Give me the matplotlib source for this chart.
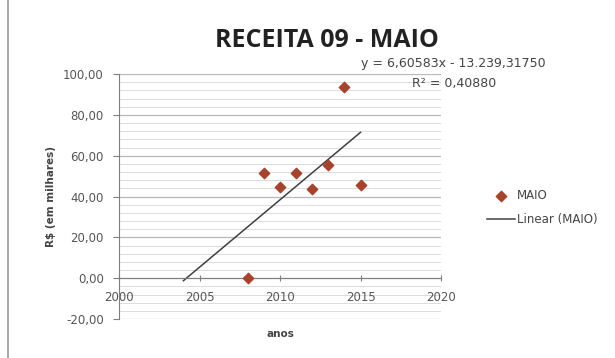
import matplotlib.pyplot as plt
import numpy as np
from matplotlib.lines import Line2D

# Data
anos = [2008, 2009, 2010, 2011, 2012, 2013, 2014, 2015]
maio = [0.0, 51.5, 44.5, 51.5, 43.5, 55.5, 93.5, 45.5]
# trendline as printed on the chart
slope = 6.60583
intercept = -13239.31750
r2 = 0.40880
trend_start = 2004  # backward forecast of the Excel trendline


def br(v, nd):
    # brazilian number format: 13.239,31750
    s = f'{v:,.{nd}f}'
    return s.replace(',', '#').replace('.', ',').replace('#', '.')


plt.rcParams['font.family'] = ['DejaVu Sans']

fig = plt.figure(figsize=(6.15, 3.58), dpi=100)
fig.patch.set_facecolor('white')
ax = fig.add_axes([0.1935, 0.1089, 0.5236, 0.6844])

# grid lines
for v in np.arange(-20, 101, 4):
    major = v % 20 == 0
    ax.axhline(v, color='#b8b8b8' if major else '#dcdcdc', lw=0.9 if major else 0.7, zorder=0)

# points and linear trend
ax.scatter(anos, maio, marker='D', s=28, color='#a8432b', zorder=3, label='MAIO')
xs = np.array([trend_start, anos[-1]])
ax.plot(xs, slope * xs + intercept, color='#404040', lw=1.1, zorder=2, label='Linear (MAIO)')

ax.set_xlim(2000, 2020)
ax.set_ylim(-20, 100)
ax.set_xticks(range(2000, 2021, 5))
ax.set_yticks(range(-20, 101, 20))
ax.set_yticklabels([br(v, 2) for v in range(-20, 101, 20)])

for s in ['top', 'right']:
    ax.spines[s].set_visible(False)
ax.spines['bottom'].set_position(('data', 0))
ax.spines['bottom'].set_color('#7f7f7f')
ax.spines['left'].set_color('#7f7f7f')
ax.tick_params(axis='x', direction='inout', length=5, color='#7f7f7f', labelsize=8.5,
               labelcolor='#555555', pad=7)
ax.tick_params(axis='y', direction='out', length=4, color='#7f7f7f', labelsize=8.5,
               labelcolor='#555555', pad=7)

ax.set_xlabel('anos', fontsize=7.5, fontweight='bold', color='#444444', labelpad=18)
ax.set_ylabel('R$ (em milhares)', fontsize=7.5, fontweight='bold', color='#444444', labelpad=5)
ax.patch.set_alpha(0)

fig.text(0.532, 0.888, 'RECEITA 09 - MAIO', ha='center', va='center',
         fontsize=18, fontweight='bold', color='#222222', family='Open Sans')
fig.text(0.737, 0.824, f'y = {br(slope, 5)}x - {br(-intercept, 5)}',
         ha='center', va='center', fontsize=9, color='#444444')
fig.text(0.738, 0.768, f'R² = {br(r2, 5)}', ha='center', va='center',
         fontsize=9, color='#444444')

ax.legend(loc='center left', bbox_to_anchor=(1.127, 0.455), frameon=False, fontsize=8.5,
          labelcolor='#444444', handlelength=2.4, handletextpad=0.2, borderaxespad=0,
          labelspacing=0.9)

# chart border on the left
fig.add_artist(Line2D([0.013, 0.013], [0.0, 1.0], color='#9a9a9a', lw=1.2))

plt.savefig('out.png', dpi=100)
